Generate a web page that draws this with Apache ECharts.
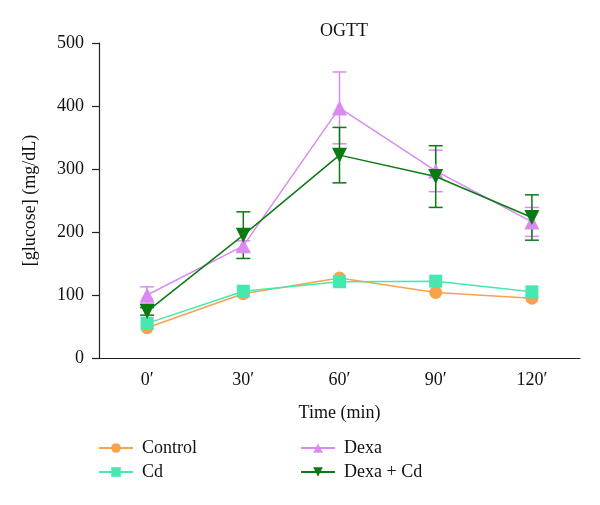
<!DOCTYPE html>
<html>
<head>
<meta charset="utf-8">
<script src="https://cdn.jsdelivr.net/npm/echarts@6/dist/echarts.min.js"></script>
<style>html,body{margin:0;padding:0;background:#fff}#c{width:600px;height:505px}</style>
</head>
<body>
<div id="c"></div>
<script>
var categories = ["0\u2032", "30\u2032", "60\u2032", "90\u2032", "120\u2032"];
var yTicks = [0, 100, 200, 300, 400, 500];
var control = [48, 102, 127, 104, 95];
var cd = [55, 106, 121, 122, 105];
var dexa = [100, 178, 397, 297, 216];
var dexaErr = [13, 8, 57, 33, 23];
var dexaCd = [74, 195, 322, 288, 223];
var dexaCdErr = [6, 37, 44, 49, 36];

var FONT = "Liberation Serif";
var FS = 18;
var C_CONTROL = "#F9A24C", C_CD = "#45E8AE", C_DEXA = "#DA8BF2", C_DC = "#0A7A12";

function errSeries(name, vals, errs, color) {
  var data = vals.map(function (v, i) { return [i, v - errs[i], v + errs[i]]; });
  return {
    type: "custom", name: name + " err", silent: true, z: 1,
    renderItem: function (params, api) {
      var x = api.value(0);
      var lo = api.coord([x, api.value(1)]);
      var hi = api.coord([x, api.value(2)]);
      var hw = 7;
      var st = { stroke: color, lineWidth: 1.5 };
      return {
        type: "group",
        children: [
          { type: "line", shape: { x1: lo[0], y1: lo[1], x2: hi[0], y2: hi[1] }, style: st },
          { type: "line", shape: { x1: lo[0] - hw, y1: lo[1], x2: lo[0] + hw, y2: lo[1] }, style: st },
          { type: "line", shape: { x1: hi[0] - hw, y1: hi[1], x2: hi[0] + hw, y2: hi[1] }, style: st }
        ]
      };
    },
    encode: { x: 0, y: [1, 2] },
    data: data
  };
}

function lineSeries(name, vals, color, symbol, size, z) {
  return {
    type: "line", name: name, data: vals, symbol: symbol, symbolSize: size,
    lineStyle: { color: color, width: 1.5 }, itemStyle: { color: color },
    z: z, animation: false
  };
}

var chart = echarts.init(document.getElementById("c"));
chart.setOption({
  animation: false,
  backgroundColor: "#fff",
  title: {
    text: "OGTT", left: 339, top: 17, textAlign: "center",
    textStyle: { fontFamily: FONT, fontSize: FS, fontWeight: "normal", color: "#111" }
  },
  grid: { left: 99, right: 20, top: 43, bottom: 147 },
  legend: [
    {
      left: 93, top: 434, orient: "vertical", itemWidth: 34, itemHeight: 12, itemGap: 6,
      data: ["Control", "Cd"],
      textStyle: { fontFamily: FONT, fontSize: FS, color: "#111", padding: [0, 0, 0, 4] }
    },
    {
      left: 295, top: 434, orient: "vertical", itemWidth: 34, itemHeight: 12, itemGap: 6,
      data: ["Dexa", "Dexa + Cd"],
      textStyle: { fontFamily: FONT, fontSize: FS, color: "#111", padding: [0, 0, 0, 4] }
    }
  ],
  xAxis: {
    type: "category", data: categories, boundaryGap: true,
    name: "Time (min)", nameLocation: "middle", nameGap: 46,
    nameTextStyle: { fontFamily: FONT, fontSize: FS, color: "#111" },
    axisLine: { lineStyle: { color: "#222", width: 1.2 } },
    axisTick: { alignWithLabel: true, length: 9, lineStyle: { color: "#222", width: 1.2 } },
    axisLabel: { fontFamily: FONT, fontSize: FS, color: "#111", margin: 13 },
    splitLine: { show: false }
  },
  yAxis: {
    type: "value", min: 0, max: 500, interval: 100,
    name: "[glucose] (mg/dL)", nameLocation: "middle", nameGap: 60, nameRotate: 90,
    nameTextStyle: { fontFamily: FONT, fontSize: FS, color: "#111" },
    axisLine: { show: true, lineStyle: { color: "#222", width: 1.2 } },
    axisTick: { show: true, length: 7, lineStyle: { color: "#222", width: 1.2 } },
    axisLabel: {
      fontFamily: FONT, fontSize: FS, color: "#111", margin: 15,
      formatter: function (v) { return yTicks.indexOf(v) >= 0 ? String(v) : ""; }
    },
    splitLine: { show: false }
  },
  series: [
    errSeries("Dexa", dexa, dexaErr, C_DEXA),
    errSeries("Dexa + Cd", dexaCd, dexaCdErr, C_DC),
    lineSeries("Control", control, C_CONTROL, "circle", 13, 2),
    lineSeries("Cd", cd, C_CD, "rect", 13, 3),
    lineSeries("Dexa", dexa, C_DEXA, "triangle", 15, 4),
    lineSeries("Dexa + Cd", dexaCd, C_DC, "path://M0,0 L10,0 L5,9 Z", 15, 5)
  ]
});
</script>
</body>
</html>
